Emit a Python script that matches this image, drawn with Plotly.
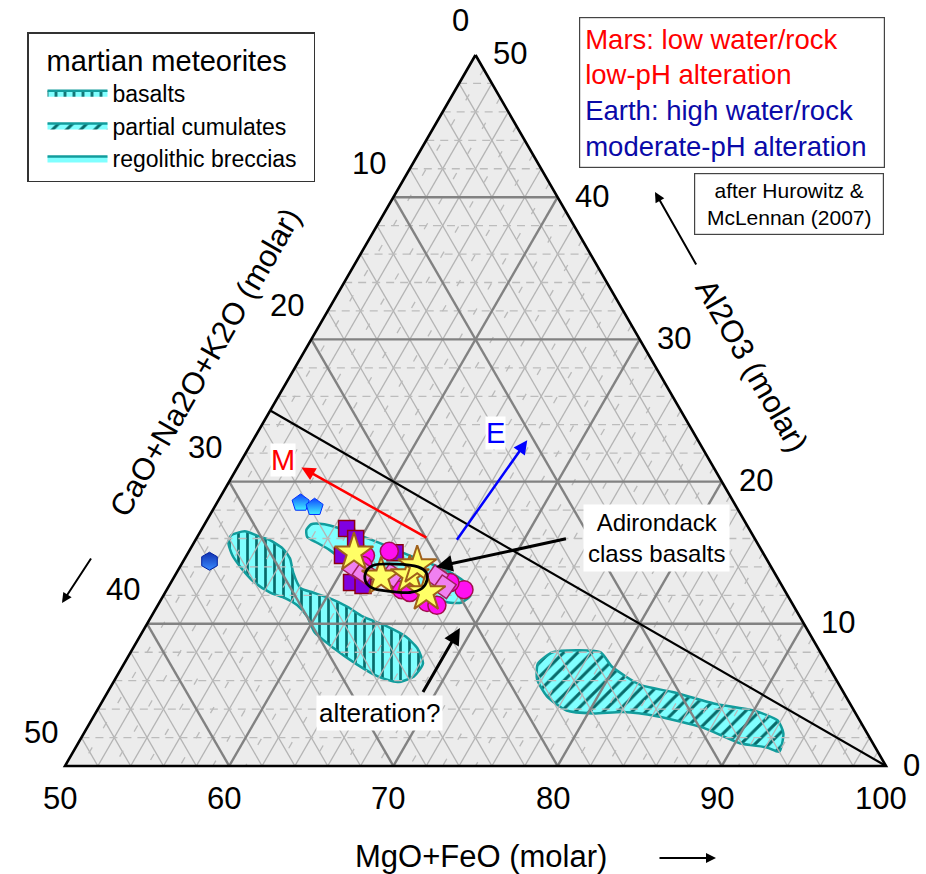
import math
import plotly.graph_objects as go

# ---------------- data: molar %, A = Al2O3, B = CaO+Na2O+K2O, C = MgO+FeO ----------------
A_TICKS = [0, 10, 20, 30, 40, 50]          # Al2O3 (right side)
B_TICKS = [0, 10, 20, 30, 40, 50]          # CaO+Na2O+K2O (left side)
C_TICKS = [50, 60, 70, 80, 90, 100]        # MgO+FeO (bottom)
MINOR_STEP = 2

# martian meteorite fields
BASALT_A = [16.2, 16.5, 16.2, 15.9, 15.3, 14.6, 13.6, 12.5, 12.2, 11.8, 11.2, 10.5, 9.9, 9.1, 8.3,
            7.2, 6.3, 5.9, 6.3, 7.2, 8.3, 9.4, 10.5, 11.3, 11.8, 12.2, 12.9, 13.9, 14.8, 15.7]
BASALT_B = [31.8, 30.8, 30.2, 29.6, 29.1, 29.0, 29.3, 29.4, 28.8, 28.0, 27.2, 26.6, 25.6, 24.7, 24.4,
            24.6, 25.6, 26.8, 27.8, 28.7, 29.5, 30.1, 30.0, 30.2, 30.7, 31.4, 32.0, 32.3, 32.4, 32.2]
BASALT_C = [52.0, 52.7, 53.6, 54.5, 55.6, 56.4, 57.1, 58.1, 59.0, 60.2, 61.6, 62.9, 64.5, 66.2, 67.3,
            68.2, 68.1, 67.3, 65.9, 64.1, 62.2, 60.5, 59.5, 58.5, 57.5, 56.4, 55.1, 53.8, 52.8, 52.1]

CUMULATE_A = [7.2, 8.0, 8.0, 7.0, 5.7, 5.2, 4.4, 3.9, 3.2, 2.3, 1.0, 1.3, 1.6, 2.7, 3.5, 3.8, 3.7, 3.9, 4.9, 6.1]
CUMULATE_B = [17.6, 16.3, 13.4, 13.2, 12.1, 10.4, 8.3, 6.1, 5.0, 5.1, 6.0, 6.6, 8.1, 9.8, 12.2, 14.1, 16.0, 17.5, 18.2, 18.2]
CUMULATE_C = [75.2, 75.7, 78.6, 79.8, 82.2, 84.4, 87.3, 90.0, 91.8, 92.6, 93.0, 92.1, 90.3, 87.5, 84.3, 82.1, 80.3, 78.6, 76.9, 75.7]

BRECCIA_A = [16.6, 17.0, 17.0, 16.7, 16.2, 15.5, 14.8, 14.1, 13.4, 12.7, 12.0, 11.5, 11.5, 11.8, 12.2,
             12.7, 13.4, 14.4, 15.2, 15.7, 16.1]
BRECCIA_B = [27.0, 26.5, 25.7, 24.9, 23.9, 22.7, 21.6, 20.4, 19.5, 19.1, 19.3, 20.1, 20.9, 21.9, 23.2,
             24.1, 25.0, 25.8, 26.3, 26.8, 27.2]
BRECCIA_C = [56.4, 56.5, 57.3, 58.4, 59.9, 61.8, 63.6, 65.5, 67.1, 68.2, 68.7, 68.4, 67.6, 66.3, 64.6,
             63.2, 61.6, 59.8, 58.5, 57.5, 56.7]

# Adirondack class basalts outline
ADK_A = [14.1, 14.2, 14.0, 13.6, 13.1, 12.5, 12.2, 12.3, 12.5, 13.0, 13.7]
ADK_B = [24.2, 22.8, 21.5, 21.2, 21.4, 22.0, 22.9, 24.2, 25.0, 25.2, 24.8]
ADK_C = [61.7, 63.0, 64.5, 65.2, 65.5, 65.5, 64.9, 63.5, 62.5, 61.8, 61.5]

# rover / sample points
SQ_A = [16.7, 16.0, 14.8, 12.9, 12.7, 15.0]
SQ_B = [24.5, 24.3, 25.7, 26.1, 25.5, 22.4]
SQ_C = [58.8, 59.7, 59.5, 61.0, 61.8, 62.6]

DIA_A = [14.0, 13.6, 13.4, 13.3, 12.6]
DIA_B = [25.4, 25.0, 23.4, 20.7, 20.6]
DIA_C = [60.6, 61.4, 63.2, 66.0, 66.8]

CIR_A = [15.1, 14.8, 12.4, 12.2, 11.5, 11.3, 12.4, 12.9, 14.1]
CIR_B = [22.7, 24.3, 23.3, 22.9, 22.2, 21.7, 19.5, 20.1, 24.8]
CIR_C = [62.2, 60.9, 64.3, 64.9, 66.3, 67.0, 68.1, 67.0, 61.1]

STAR_A = [15.0, 13.3, 13.4, 14.1, 12.2]
STAR_B = [24.9, 24.1, 22.3, 21.5, 21.9]
STAR_C = [60.1, 62.6, 64.3, 64.4, 65.9]

PENT_A = [18.5, 18.2]
PENT_B = [26.4, 25.7]
PENT_C = [55.1, 56.1]

HEX_A = [14.4]
HEX_B = [34.0]
HEX_C = [51.6]

# feldspar join line
JOIN_A = [25, 0]
JOIN_B = [25, 0]
JOIN_C = [50, 100]

# arrows (tail, head) as (A, B, C)
ARROW_M = [(16.0, 19.9, 64.1), (21.0, 25.1, 53.9)]
ARROW_E = [(15.8, 18.3, 65.9), (22.9, 10.4, 66.7)]
ARROW_ADK = [(16.0, 11.4, 72.6), (14.0, 20.4, 65.6)]
ARROW_ALT = [(5.1, 25.7, 69.2), (9.7, 21.1, 69.2)]
LABEL_M = (21.5, 26.0, 52.5)
LABEL_E = (23.4, 12.1, 64.5)
LABEL_ADK = (16.0, 6.0, 78.0)
LABEL_ALT = (3.7, 29.0, 67.3)

# ---------------- ternary -> cartesian ----------------
SQ3 = math.sqrt(3) / 2


def tern(a, b, c):
    s = a + b + c
    a, c = 100 * a / s, 100 * c / s
    return (c - 50) / 50 + 0.5 * a / 50, SQ3 * a / 50


def xy(A, B, C):
    pts = [tern(a, b, c) for a, b, c in zip(A, B, C)]
    return [p[0] for p in pts], [p[1] for p in pts]


def family(kind, vals):
    xs, ys = [], []
    for v in vals:
        if kind == 'a':
            p, q = tern(v, 50 - v, 50), tern(v, 0, 100 - v)
        elif kind == 'b':
            p, q = tern(50 - v, v, 50), tern(0, v, 100 - v)
        else:
            p, q = tern(100 - v, 0, v), tern(0, 100 - v, v)
        xs += [p[0], q[0], None]
        ys += [p[1], q[1], None]
    return xs, ys


W, H = 926, 874
S, X0, Y0 = 821.0, 65.0, 766.0
FONT = 'Liberation Sans, Arial, sans-serif'
CYAN = '#80ffff'
TEAL = '#129c9c'
HATCH = '#086a6a'

fig = go.Figure()

# triangle background
tx, ty = xy([50, 0, 0, 50], [0, 50, 0, 0], [50, 50, 100, 50])
fig.add_trace(go.Scatter(x=tx, y=ty, mode='lines', fill='toself', fillcolor='#ececec',
                         line=dict(width=0), hoverinfo='skip', showlegend=False))

# meteorite fields (legend entries)
bx, by = xy(BASALT_A + BASALT_A[:1], BASALT_B + BASALT_B[:1], BASALT_C + BASALT_C[:1])
fig.add_trace(go.Scatter(x=bx, y=by, mode='lines', name='basalts', fill='toself', fillcolor=CYAN,
                         fillpattern=dict(shape='|', fgcolor=HATCH, bgcolor=CYAN, size=9, solidity=0.3,
                                          fgopacity=1),
                         line=dict(color=TEAL, width=2.5, shape='spline', smoothing=0.6)))
cx, cy = xy(CUMULATE_A + CUMULATE_A[:1], CUMULATE_B + CUMULATE_B[:1], CUMULATE_C + CUMULATE_C[:1])
fig.add_trace(go.Scatter(x=cx, y=cy, mode='lines', name='partial cumulates', fill='toself', fillcolor=CYAN,
                         fillpattern=dict(shape='/', fgcolor=HATCH, bgcolor=CYAN, size=10, solidity=0.3,
                                          fgopacity=1),
                         line=dict(color=TEAL, width=2.5, shape='spline', smoothing=0.6)))
rx, ry = xy(BRECCIA_A + BRECCIA_A[:1], BRECCIA_B + BRECCIA_B[:1], BRECCIA_C + BRECCIA_C[:1])
fig.add_trace(go.Scatter(x=rx, y=ry, mode='lines', name='regolithic breccias', fill='toself', fillcolor=CYAN,
                         line=dict(color=TEAL, width=2.5, shape='spline', smoothing=0.6)))

# grid
minor_ab = [v for v in range(0, 51, MINOR_STEP) if v not in A_TICKS]
minor_c = [v for v in range(50, 101, MINOR_STEP) if v not in C_TICKS]
odd_c = [v for v in range(51, 100, MINOR_STEP)]
for kind, vals, dash, col in [('b', minor_ab, 'solid', '#b4b4b4'), ('c', minor_c, 'solid', '#b4b4b4'),
                              ('a', minor_ab, '8px,6px', '#bcbcbc'), ('c', odd_c, '7px,22px', '#bababa')]:
    gx, gy = family(kind, vals)
    fig.add_trace(go.Scatter(x=gx, y=gy, mode='lines', line=dict(color=col, width=1.3, dash=dash),
                             hoverinfo='skip', showlegend=False))
for kind, vals in [('a', A_TICKS[1:-1]), ('b', B_TICKS[1:-1]), ('c', C_TICKS[1:-1])]:
    gx, gy = family(kind, vals)
    fig.add_trace(go.Scatter(x=gx, y=gy, mode='lines', line=dict(color='#828282', width=2.4),
                             hoverinfo='skip', showlegend=False))

# triangle border
fig.add_trace(go.Scatter(x=tx, y=ty, mode='lines', line=dict(color='black', width=2.6),
                         hoverinfo='skip', showlegend=False))

# feldspar join
jx, jy = xy(JOIN_A, JOIN_B, JOIN_C)
fig.add_trace(go.Scatter(x=jx, y=jy, mode='lines', line=dict(color='black', width=2.2),
                         hoverinfo='skip', showlegend=False))

# points
px_, py_ = xy(PENT_A, PENT_B, PENT_C)
fig.add_trace(go.Scatter(x=px_, y=py_, mode='markers', showlegend=False,
                         marker=dict(symbol='pentagon', size=18, color='#1045ff',
                                     gradient=dict(type='vertical', color='#3ff0ff'),
                                     line=dict(color='#0030ff', width=1))))
hx_, hy_ = xy(HEX_A, HEX_B, HEX_C)
fig.add_trace(go.Scatter(x=hx_, y=hy_, mode='markers', showlegend=False,
                         marker=dict(symbol='hexagon', size=18, color='#1030b0',
                                     gradient=dict(type='vertical', color='#3a8cff'),
                                     line=dict(color='#0020a0', width=1))))
sx, sy = xy(SQ_A, SQ_B, SQ_C)
fig.add_trace(go.Scatter(x=sx, y=sy, mode='markers', showlegend=False,
                         marker=dict(symbol='square', size=16, color='#8000e0',
                                     line=dict(color='#8b0010', width=1.5))))
ccx, ccy = xy(CIR_A, CIR_B, CIR_C)
fig.add_trace(go.Scatter(x=ccx, y=ccy, mode='markers', showlegend=False,
                         marker=dict(symbol='circle', size=18, color='#ff10f0',
                                     line=dict(color='#a0104a', width=1.5))))
dx_, dy_ = xy(DIA_A, DIA_B, DIA_C)
fig.add_trace(go.Scatter(x=dx_, y=dy_, mode='markers', showlegend=False,
                         marker=dict(symbol='square', angle=35, size=17, color='#f080f0',
                                     line=dict(color='#a0205a', width=1.5))))
stx, sty = xy(STAR_A, STAR_B, STAR_C)
fig.add_trace(go.Scatter(x=stx, y=sty, mode='markers', showlegend=False,
                         marker=dict(symbol='star', size=29, color='#ffff66',
                                     line=dict(color='#a0601a', width=2))))
ax_, ay_ = xy(ADK_A + ADK_A[:1], ADK_B + ADK_B[:1], ADK_C + ADK_C[:1])
fig.add_trace(go.Scatter(x=ax_, y=ay_, mode='lines', showlegend=False, hoverinfo='skip',
                         line=dict(color='black', width=2.8, shape='spline', smoothing=1.0)))

# ---------------- annotations ----------------
ann = []


def arrow(pair, color, width=2.5):
    (tx0, ty0), (hx0, hy0) = tern(*pair[0]), tern(*pair[1])
    return dict(x=hx0, y=hy0, ax=tx0, ay=ty0, xref='x', yref='y', axref='x', ayref='y', text='',
                showarrow=True, arrowhead=2, arrowsize=1.1, arrowwidth=width, arrowcolor=color)


ann += [arrow(ARROW_M, '#ff0000'), arrow(ARROW_E, '#0000ff'),
        arrow(ARROW_ADK, 'black', 3), arrow(ARROW_ALT, 'black', 3)]


def label(pos, text, color, size, **kw):
    x0, y0 = tern(*pos)
    d = dict(x=x0, y=y0, xref='x', yref='y', text=text, showarrow=False, xanchor='center', yanchor='middle',
             font=dict(size=size, color=color, family=FONT), bgcolor='white')
    d.update(kw)
    return d


ann += [label(LABEL_M, 'M', '#ff0000', 29, borderpad=0),
        label(LABEL_E, 'E', '#0000ff', 29, borderpad=0),
        label(LABEL_ADK, 'Adirondack<br>class basalts', 'black', 24, borderpad=4),
        label(LABEL_ALT, 'alteration?', 'black', 26, borderpad=2)]

# tick labels
TICK_FONT = dict(size=31, color='black', family=FONT)
for v in C_TICKS:
    x0, y0 = tern(0, 100 - v, v)
    ann.append(dict(x=x0, y=y0, xref='x', yref='y', text=str(v), showarrow=False, font=TICK_FONT,
                    xanchor='center', yanchor='middle', xshift=-5, yshift=-32))
for v in B_TICKS:
    x0, y0 = tern(50 - v, v, 50)
    ann.append(dict(x=x0, y=y0, xref='x', yref='y', text=str(v), showarrow=False, font=TICK_FONT,
                    xanchor='right', yanchor='middle', xshift=-5, yshift=34))
for v in A_TICKS:
    x0, y0 = tern(v, 0, 100 - v)
    ann.append(dict(x=x0, y=y0, xref='x', yref='y', text=str(v), showarrow=False, font=TICK_FONT,
                    xanchor='left', yanchor='middle', xshift=15, yshift=1))

# axis titles
TITLE_FONT = dict(size=31, color='black', family=FONT)
ann.append(dict(x=480.5 / W, y=1 - 856 / H, xref='paper', yref='paper', text='MgO+FeO (molar)',
                showarrow=False, font=TITLE_FONT, xanchor='center', yanchor='middle'))
ann.append(dict(x=716 / W, y=1 - 858 / H, xref='paper', yref='paper', text='', showarrow=True,
                ax=-58, ay=0, arrowhead=2, arrowsize=1, arrowwidth=2, arrowcolor='black'))
ann.append(dict(x=205 / W, y=1 - 362 / H, xref='paper', yref='paper', text='CaO+Na2O+K2O (molar)',
                showarrow=False, font=TITLE_FONT, textangle=-60, xanchor='center', yanchor='middle'))
ann.append(dict(x=62 / W, y=1 - 603 / H, xref='paper', yref='paper', text='', showarrow=True,
                ax=30, ay=-46, arrowhead=2, arrowsize=1, arrowwidth=2, arrowcolor='black'))
ann.append(dict(x=752 / W, y=1 - 365 / H, xref='paper', yref='paper', text='Al2O3 (molar)',
                showarrow=False, font=TITLE_FONT, textangle=60, xanchor='center', yanchor='middle'))
ann.append(dict(x=655 / W, y=1 - 192 / H, xref='paper', yref='paper', text='', showarrow=True,
                ax=42, ay=74, arrowhead=2, arrowsize=1, arrowwidth=2, arrowcolor='black'))

# info boxes
ann.append(dict(x=732 / W, y=1 - 92.5 / H, xref='paper', yref='paper', showarrow=False,
                xanchor='center', yanchor='middle',
                text=("<span style='color:#ff0000'>Mars: low water/rock<br>low-pH alteration</span><br>"
                      "<span style='color:#0a0aa8'>Earth: high water/rock<br>moderate-pH alteration</span>"),
                font=dict(size=27.5, family=FONT), align='left', width=294, height=139,
                bgcolor='white', bordercolor='#444', borderwidth=1.2, borderpad=5))
ann.append(dict(x=789 / W, y=1 - 204.5 / H, xref='paper', yref='paper', showarrow=False,
                xanchor='center', yanchor='middle',
                text='after Hurowitz &amp;<br>McLennan (2007)', font=dict(size=21, color='black', family=FONT),
                align='center', width=180, height=52, bgcolor='white', bordercolor='#444',
                borderwidth=1.2, borderpad=4))

fig.update_layout(
    width=W, height=H, margin=dict(l=0, r=0, t=0, b=0),
    paper_bgcolor='white', plot_bgcolor='white',
    font=dict(family=FONT, color='black'),
    xaxis=dict(range=[-X0 / S, (W - X0) / S], visible=False),
    yaxis=dict(range=[(Y0 - H) / S, Y0 / S], visible=False),
    showlegend=True,
    legend=dict(x=27 / W, y=1 - 32 / H, xanchor='left', yanchor='top', bgcolor='white',
                bordercolor='#333', borderwidth=1.5, font=dict(size=23, family=FONT),
                title=dict(text='\u00a0\u00a0martian meteorites\u00a0\u00a0\u00a0',
                           font=dict(size=29, family=FONT)),
                itemwidth=60, indentation=14, tracegroupgap=0),
    annotations=ann,
)

fig.write_html('out.html', config={'displayModeBar': False},
               post_script="document.body.style.margin='0px';document.body.style.overflow='hidden';")
